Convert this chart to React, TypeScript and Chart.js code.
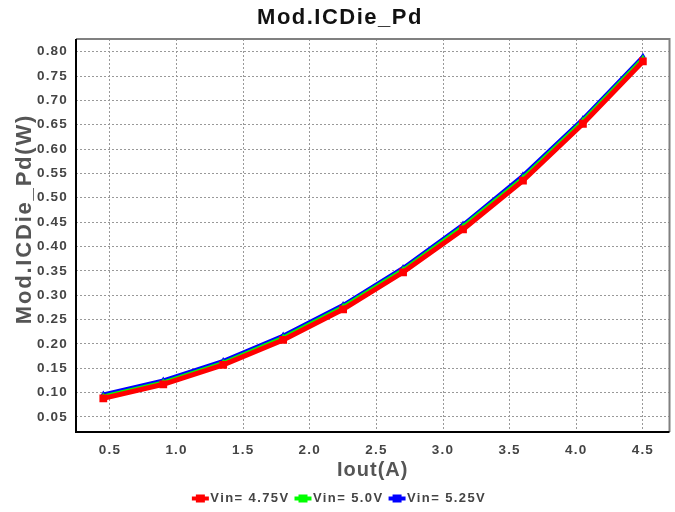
import React, { useEffect, useRef } from "react";
import { Chart, registerables } from "chart.js";

Chart.register(...registerables);

const iout = [0.45, 0.9, 1.35, 1.8, 2.25, 2.7, 3.15, 3.6, 4.05, 4.5];
const vin475 = [0.088, 0.117, 0.157, 0.208, 0.271, 0.347, 0.435, 0.535, 0.652, 0.780];
const vin500 = [0.093, 0.122, 0.162, 0.214, 0.277, 0.353, 0.442, 0.542, 0.659, 0.787];
const vin525 = [0.097, 0.126, 0.166, 0.218, 0.281, 0.357, 0.446, 0.547, 0.663, 0.791];
const seriesLabels = ["Vin= 4.75V", "Vin= 5.0V", "Vin= 5.25V"];
const seriesColors = ["#ff0000", "#00ff00", "#0000ff"];
const chartTitle = "Mod.ICDie_Pd";
const xTitle = "Iout(A)";
const yTitle = "Mod.ICDie_Pd(W)";

const FAMILY = "Liberation Sans, Arial";

function makeIcon(color: string) {
  const c = document.createElement("canvas");
  c.width = 34;
  c.height = 10;
  const g = c.getContext("2d")!;
  g.fillStyle = color;
  g.fillRect(10, 3, 17, 4);
  g.fillRect(14, 1, 9, 8);
  return c;
}

function spacingFor(font: string) {
  const m = /(\d+(?:\.\d+)?)px/.exec(font);
  const size = m ? parseFloat(m[1]) : 0;
  if (size >= 21.5) return "1.5px";
  if (size >= 19.5 && size < 21.5) return "1px";
  if (size === 13.5) return "1.2px";
  if (size === 13) return "1.4px";
  return "0px";
}

function patchContext(ctx: any) {
  const desc = Object.getOwnPropertyDescriptor(CanvasRenderingContext2D.prototype, "font")!;
  Object.defineProperty(ctx, "font", {
    configurable: true,
    get() {
      return desc.get!.call(this);
    },
    set(v: string) {
      desc.set!.call(this, v);
      try {
        this.letterSpacing = spacingFor(v);
      } catch (e) {}
    },
  });
}

const frame = {
  id: "frame",
  afterDraw(chart: any) {
    const { ctx, chartArea: a } = chart;
    ctx.save();
    ctx.strokeStyle = "#808080";
    ctx.lineWidth = 2;
    ctx.beginPath();
    ctx.moveTo(a.left, a.top);
    ctx.lineTo(a.right, a.top);
    ctx.lineTo(a.right, a.bottom);
    ctx.stroke();
    ctx.strokeStyle = "#000";
    ctx.beginPath();
    ctx.moveTo(a.left, a.top);
    ctx.lineTo(a.left, a.bottom);
    ctx.lineTo(a.right, a.bottom);
    ctx.stroke();
    // vertical axis title
    ctx.translate(25, 219);
    ctx.rotate(-Math.PI / 2);
    ctx.font = `bold 22px ${FAMILY}`;
    ctx.letterSpacing = "1.8px";
    ctx.fillStyle = "#555";
    ctx.textAlign = "center";
    ctx.textBaseline = "middle";
    ctx.fillText(yTitle, 0, 0);
    ctx.restore();
  },
};

export default function App() {
  const ref = useRef<HTMLCanvasElement>(null);
  useEffect(() => {
    const canvas = ref.current!;
    patchContext(canvas.getContext("2d"));
    const icons = seriesColors.map(makeIcon);
    const mk = (i: number, data: number[], width: number, style: string, radius: number) => ({
      label: seriesLabels[i],
      data: iout.map((x, k) => ({ x, y: data[k] })),
      borderColor: seriesColors[i],
      backgroundColor: seriesColors[i],
      borderWidth: width,
      pointStyle: style,
      pointRadius: radius,
      pointBorderWidth: 0,
      pointBackgroundColor: seriesColors[i],
      tension: 0,
    });
    const chart = new Chart(canvas, {
      type: "line",
      data: {
        datasets: [
          mk(0, vin475, 5, "rect", 5.5),
          mk(1, vin500, 3, "triangle", 3.5),
          mk(2, vin525, 3, "triangle", 3.5),
        ],
      },
      plugins: [frame],
      options: {
        animation: false,
        responsive: false,
        devicePixelRatio: 1,
        layout: { padding: { left: 10, right: 5, top: 0, bottom: -3 } },
        plugins: {
          title: {
            display: true,
            text: chartTitle,
            color: "#111",
            font: { family: FAMILY, size: 22, weight: "bold" },
            padding: { top: 5, bottom: 7.6 },
          },
          legend: {
            position: "bottom",
            labels: {
              color: "#444",
              font: { family: FAMILY, size: 13, weight: "bold" },
              usePointStyle: true,
              pointStyleWidth: 10,
              padding: 7,
              generateLabels: (c: any) => {
                const items = Chart.defaults.plugins.legend.labels.generateLabels(c);
                items.forEach((it: any, i: number) => {
                  it.pointStyle = icons[i];
                });
                return items;
              },
            },
          },
          tooltip: { enabled: false },
        },
        scales: {
          x: {
            type: "linear",
            min: 0.245,
            max: 4.7,
            afterBuildTicks: (s: any) => {
              const t = [];
              for (let k = 1; k <= 9; k++) t.push({ value: k / 2 });
              s.ticks = t;
            },
            afterFit: (s: any) => {
              s.height = 53;
            },
            ticks: {
              color: "#444",
              font: { family: FAMILY, size: 13.5, weight: "bold" },
              padding: 10,
              maxRotation: 0,
              callback: (v: any) => Number(v).toFixed(1),
            },
            grid: {
              color: "#999",
              lineWidth: 1,
              drawTicks: false,
            },
            border: { display: false, dash: [2, 2] },
            title: {
              display: true,
              text: xTitle,
              color: "#555",
              font: { family: FAMILY, size: 20, weight: "bold", lineHeight: 1 },
              padding: { top: 0, bottom: 5 },
            },
          },
          y: {
            type: "linear",
            min: 0.019,
            max: 0.826,
            afterBuildTicks: (s: any) => {
              const t = [];
              for (let k = 1; k <= 16; k++) t.push({ value: (k * 5) / 100 });
              s.ticks = t;
            },
            afterFit: (s: any) => {
              s.width = 66;
            },
            ticks: {
              color: "#444",
              font: { family: FAMILY, size: 13.5, weight: "bold" },
              padding: 8,
              callback: (v: any) => Number(v).toFixed(2),
            },
            grid: {
              color: "#999",
              lineWidth: 1,
              drawTicks: false,
            },
            border: { display: false, dash: [2, 2] },
            title: { display: false },
          },
        },
      } as any,
    });
    return () => chart.destroy();
  }, []);
  return (
    <div style={{ position: "fixed", left: 0, top: 0, width: 675, height: 512, background: "#fff" }}>
      <canvas ref={ref} width={675} height={512} style={{ width: 675, height: 512 }} />
    </div>
  );
}
